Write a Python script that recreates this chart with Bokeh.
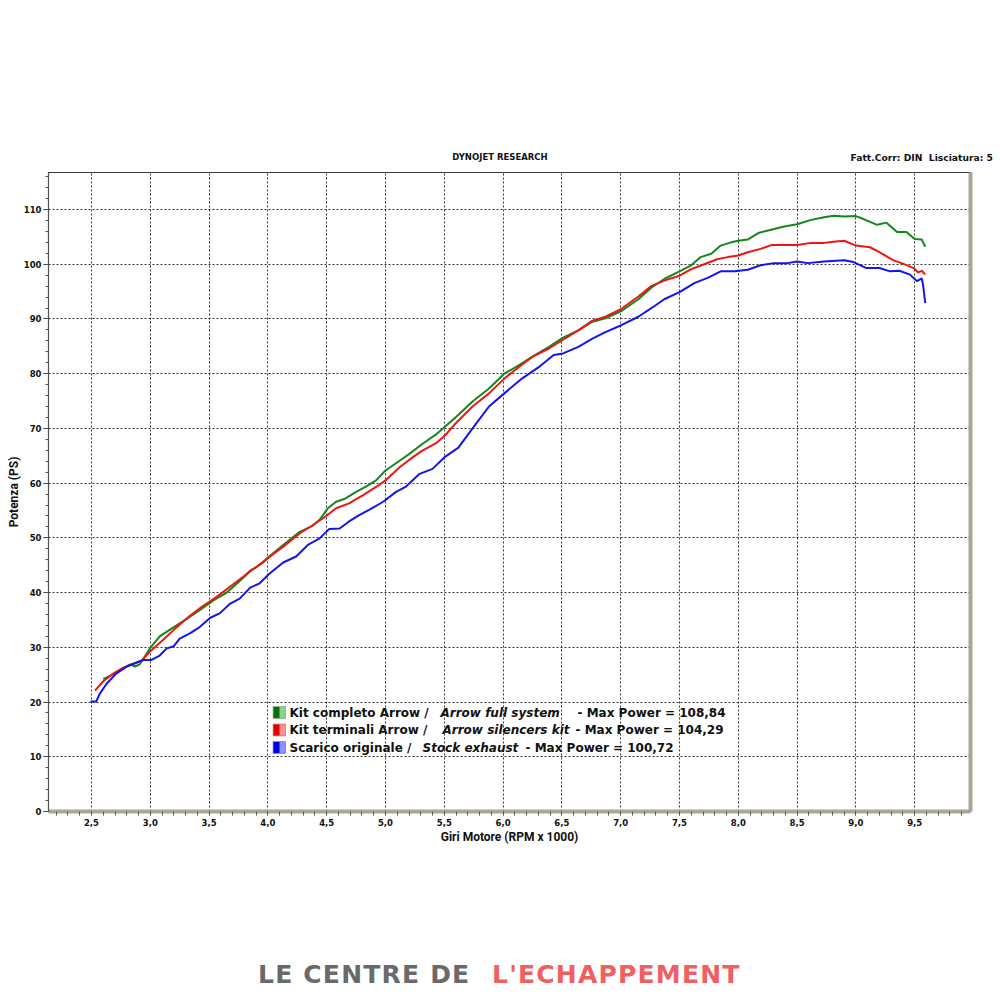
import numpy as np
from bokeh.plotting import figure
from bokeh.layouts import column
from bokeh.models import Range1d, FixedTicker, Label, BoxAnnotation, Div, LinearAxis
from bokeh.embed import file_html
from bokeh.resources import INLINE

# ---------------- data ----------------
rpm_full = [2.60, 2.685, 2.77, 2.83, 2.87, 2.91, 2.95, 3.00, 3.08, 3.20, 3.31, 3.42, 3.54, 3.65,
            3.74, 3.85, 3.96, 4.00, 4.13, 4.27, 4.38, 4.44, 4.51, 4.58, 4.66, 4.75, 4.83, 4.92,
            5.00, 5.12, 5.20, 5.31, 5.43, 5.51, 5.60, 5.74, 5.88, 6.01, 6.14, 6.25, 6.39, 6.51,
            6.64, 6.76, 6.87, 7.01, 7.15, 7.26, 7.37, 7.50, 7.60, 7.68, 7.77, 7.85, 7.94, 8.00,
            8.08, 8.17, 8.28, 8.39, 8.50, 8.62, 8.73, 8.81, 8.90, 9.00, 9.06, 9.18, 9.26, 9.35,
            9.43, 9.50, 9.56, 9.59]
ps_full = [24.2, 25.1, 26.1, 26.9, 26.5, 26.9, 28.2, 29.9, 32.0, 33.7, 35.2, 36.8, 38.6, 40.0,
           41.7, 43.9, 45.5, 46.4, 48.7, 51.1, 52.2, 53.3, 55.4, 56.6, 57.2, 58.4, 59.3, 60.5,
           62.3, 64.1, 65.3, 67.1, 68.9, 70.4, 72.1, 74.9, 77.3, 80.0, 81.6, 83.1, 84.9, 86.6,
           87.9, 89.5, 90.1, 91.5, 93.6, 95.7, 97.3, 98.7, 99.8, 101.3, 101.9, 103.4, 104.0, 104.3,
           104.5, 105.7, 106.3, 106.9, 107.3, 108.1, 108.6, 108.84, 108.7, 108.8, 108.3, 107.2, 107.6, 105.9,
           105.9, 104.6, 104.5, 103.2]

rpm_sil = [2.53, 2.60, 2.685, 2.77, 2.855, 2.93, 3.00, 3.11, 3.22, 3.34, 3.45, 3.57, 3.68, 3.79,
           3.85, 3.91, 4.00, 4.13, 4.27, 4.38, 4.49, 4.58, 4.69, 4.81, 4.92, 5.00, 5.12, 5.23,
           5.31, 5.43, 5.51, 5.60, 5.74, 5.88, 6.01, 6.14, 6.25, 6.39, 6.51, 6.64, 6.76, 6.87,
           7.01, 7.15, 7.26, 7.37, 7.50, 7.60, 7.71, 7.82, 7.91, 8.00, 8.08, 8.19, 8.28, 8.39,
           8.50, 8.62, 8.73, 8.81, 8.90, 9.00, 9.12, 9.20, 9.32, 9.40, 9.49, 9.53, 9.56, 9.59]
ps_sil = [22.1, 23.8, 25.2, 26.3, 27.0, 27.6, 29.3, 31.4, 33.6, 35.8, 37.6, 39.3, 41.1, 42.9,
          44.0, 44.8, 46.3, 48.4, 50.8, 52.3, 53.9, 55.4, 56.3, 57.8, 59.3, 60.5, 62.9, 64.7,
          65.9, 67.3, 68.8, 71.0, 74.0, 76.4, 79.1, 81.3, 83.1, 84.6, 86.2, 87.9, 89.7, 90.4,
          91.9, 94.1, 96.0, 97.0, 97.9, 99.1, 100.0, 100.9, 101.3, 101.6, 102.2, 102.8, 103.5, 103.5,
          103.5, 103.9, 103.9, 104.1, 104.29, 103.4, 103.1, 102.2, 100.7, 100.1, 99.3, 98.5, 98.8, 98.1]

rpm_stock = [2.49, 2.54, 2.57, 2.63, 2.71, 2.80, 2.86, 2.94, 3.01, 3.08, 3.14, 3.20, 3.25, 3.34,
             3.42, 3.51, 3.59, 3.68, 3.76, 3.85, 3.93, 4.01, 4.13, 4.24, 4.34, 4.44, 4.52, 4.61,
             4.69, 4.78, 4.86, 4.98, 5.09, 5.17, 5.29, 5.40, 5.50, 5.62, 5.74, 5.88, 6.01, 6.16,
             6.31, 6.43, 6.51, 6.64, 6.76, 6.87, 7.01, 7.15, 7.27, 7.37, 7.50, 7.63, 7.74, 7.85,
             7.97, 8.08, 8.19, 8.30, 8.42, 8.50, 8.59, 8.73, 8.90, 8.98, 9.09, 9.20, 9.29, 9.37,
             9.46, 9.52, 9.56, 9.57, 9.59]
ps_stock = [20.1, 20.1, 21.5, 23.4, 25.2, 26.5, 27.0, 27.7, 27.7, 28.5, 29.8, 30.2, 31.6, 32.6,
            33.7, 35.4, 36.2, 38.0, 38.9, 40.9, 41.7, 43.4, 45.5, 46.6, 48.7, 49.9, 51.6, 51.7,
            53.0, 54.2, 55.1, 56.6, 58.4, 59.3, 61.7, 62.6, 64.7, 66.5, 70.0, 74.0, 76.4, 79.1,
            81.3, 83.4, 83.7, 84.9, 86.4, 87.6, 88.9, 90.4, 92.1, 93.6, 94.9, 96.6, 97.5, 98.7,
            98.7, 99.0, 99.8, 100.2, 100.2, 100.5, 100.2, 100.5, 100.72, 100.4, 99.3, 99.3, 98.7, 98.8,
            98.1, 96.9, 97.4, 96.4, 92.9]

x_ticks = [2.5, 3.0, 3.5, 4.0, 4.5, 5.0, 5.5, 6.0, 6.5, 7.0, 7.5, 8.0, 8.5, 9.0, 9.5]
x_tick_labels = ["2,5", "3,0", "3,5", "4,0", "4,5", "5,0", "5,5", "6,0", "6,5", "7,0",
                 "7,5", "8,0", "8,5", "9,0", "9,5"]
y_ticks = [0, 10, 20, 30, 40, 50, 60, 70, 80, 90, 100, 110]

series_names = ["Kit completo Arrow / ", "Kit terminali Arrow / ", "Scarico originale / "]
series_names_en = ["Arrow full system", "Arrow silencers kit", "Stock exhaust"]
max_power = ["108,84", "104,29", "100,72"]

# ---------------- layout constants ----------------
X0, X1 = 2.1344, 9.9745
Y0, Y1 = 0.0, 116.76
PAGE_W = 995
HEAD_H = 165
FL, FR, FT, FB = 48, 970, 172, 811   # frame edges on the page
FIG_H = 686
SHADOW = "#aaa597"

def fx(px):
    return X0 + (px - FL) / (FR - FL) * (X1 - X0)

def fy(py):
    return Y0 + (FB - py) / (FB - FT) * (Y1 - Y0)

# ---------------- header ----------------
header = Div(width=PAGE_W, height=HEAD_H, margin=(0, 0, 0, 0), text=(
    '<div style="position:relative;width:%dpx;height:%dpx;">'
    '<span style="position:absolute;left:0;width:1000px;text-align:center;top:151px;'
    'font-family:\'DejaVu Sans\';font-weight:bold;font-size:8.5px;color:#111;">DYNOJET RESEARCH</span>'
    '<span style="position:absolute;right:2px;top:151px;white-space:pre;'
    'font-family:\'DejaVu Sans\';font-weight:bold;font-size:9.2px;color:#111;">Fatt.Corr: DIN  Lisciatura: 5</span>'
    '</div>') % (PAGE_W, HEAD_H))

# ---------------- figure ----------------
p = figure(width=PAGE_W, height=FIG_H, x_range=Range1d(X0, X1), y_range=Range1d(Y0, Y1),
           output_backend="svg", toolbar_location=None, margin=(0, 0, 0, 0),
           min_border_left=FL, min_border_right=PAGE_W - FR, min_border_top=FT - HEAD_H,
           min_border_bottom=FIG_H - (FB - HEAD_H))
p.background_fill_color = "white"
p.border_fill_color = "white"
p.outline_line_color = "#3a3a3a"
p.outline_line_width = 1.2

for g in (p.xgrid, p.ygrid):
    g.grid_line_color = "#111111"
    g.grid_line_dash = "2 2"
    g.grid_line_width = 1
    g.grid_line_alpha = 0.85

p.xaxis.ticker = FixedTicker(ticks=x_ticks, minor_ticks=list(np.arange(2.2, 9.95, 0.1)))
p.xaxis.major_label_overrides = {t: l for t, l in zip(x_ticks, x_tick_labels)}
p.yaxis.ticker = FixedTicker(ticks=y_ticks, minor_ticks=list(range(0, 117, 2)))
for ax in (p.xaxis[0], p.yaxis[0]):
    ax.axis_line_color = "#555555"
    ax.major_tick_line_color = "#333333"
    ax.minor_tick_line_color = "#555555"
    ax.major_label_text_color = "#111111"
    ax.major_label_text_font = "DejaVu Sans"
    ax.major_label_text_font_style = "bold"
    ax.major_label_text_font_size = "8.5px"
    ax.axis_label_text_font = "Roboto"
    ax.axis_label_text_font_style = "bold"
    ax.axis_label_text_font_size = "12px"
    ax.axis_label_text_color = "#111111"
p.yaxis.axis_label = "Potenza (PS)"
p.xaxis.axis_label = "Giri Motore (RPM x 1000)"
p.yaxis.axis_label_standoff = 0
p.xaxis.axis_label_standoff = 1
p.yaxis.major_tick_in = 0
p.yaxis.major_tick_out = 5
p.yaxis.minor_tick_in = 0
p.yaxis.minor_tick_out = 3
p.yaxis.major_label_standoff = 2
p.xaxis.major_tick_in = 0
p.xaxis.major_tick_out = 4
p.xaxis.minor_tick_in = 0
p.xaxis.minor_tick_out = 4
p.xaxis.major_tick_line_color = "#555555"
p.xaxis.minor_tick_line_color = "#555555"
p.xaxis.major_label_standoff = 3
p.xaxis.axis_line_width = 4
p.xaxis.axis_line_color = SHADOW

# right-hand shadow of the frame (an axis with no ticks and no labels)
shadow_axis = LinearAxis(ticker=FixedTicker(ticks=[]), axis_line_color=SHADOW, axis_line_width=4,
                         major_tick_line_color=None, minor_tick_line_color=None)
p.add_layout(shadow_axis, "right")

# curves
p.line(rpm_full, ps_full, line_color="#11891a", line_width=2)
p.line(rpm_sil, ps_sil, line_color="#f01414", line_width=2)
p.line(rpm_stock, ps_stock, line_color="#1414f0", line_width=2)

# legend (inside the frame)
sw_cols = [("#0a6e0a", "#8fd08f", "#0d4f0d"), ("#e00000", "#ff9090", "#8a0000"), ("#0000dd", "#9090ff", "#00008a")]
rows_y = [712, 729.5, 747]
seg2_x = [440, 442, 422]
seg3_x = [577, 575, 525]
for i in range(3):
    dark, light, border = sw_cols[i]
    yc = rows_y[i]
    p.add_layout(BoxAnnotation(left=fx(272.5), right=fx(285), top=fy(yc - 6), bottom=fy(yc + 6),
                               fill_color=light, fill_alpha=1, line_color=border, line_width=1))
    p.add_layout(BoxAnnotation(left=fx(273), right=fx(279), top=fy(yc - 5.5), bottom=fy(yc + 5.5),
                               fill_color=dark, fill_alpha=1, line_color=None))
    common = dict(y=fy(yc), text_baseline="middle", text_font="DejaVu Sans",
                  text_font_size="12px", text_color="#111111")
    p.add_layout(Label(x=fx(289), text=series_names[i], text_font_style="bold", **common))
    p.add_layout(Label(x=fx(seg2_x[i]), text=series_names_en[i], text_font_style="bold italic", **common))
    p.add_layout(Label(x=fx(seg3_x[i]), text="- Max Power = " + max_power[i], text_font_style="bold", **common))

# ---------------- footer logo ----------------
FOOT_H = 1000 - HEAD_H - FIG_H - 5
top_logo = 975 - 15 - (HEAD_H + FIG_H)
logo_style = ("position:absolute;top:%dpx;white-space:pre;font-family:'DejaVu Sans';font-weight:bold;"
              "font-size:25px;line-height:30px;letter-spacing:1.2px;" % top_logo)
footer = Div(width=PAGE_W, height=FOOT_H, margin=(0, 0, 0, 0), text=(
    '<div style="position:relative;width:%dpx;height:%dpx;">'
    '<span style="%sleft:258px;color:#6a6a6a;">LE CENTRE DE</span>'
    '<span style="%sleft:492px;color:#f06060;">L\'ECHAPPEMENT</span>'
    '</div>') % (PAGE_W, FOOT_H, logo_style, logo_style))

layout = column(header, p, footer, spacing=0)
open("out.html", "w").write(file_html(layout, INLINE))
